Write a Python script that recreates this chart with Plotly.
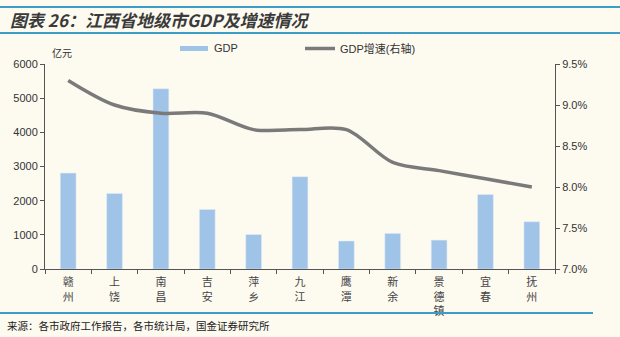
import plotly.graph_objects as go

cities = ["赣州", "上饶", "南昌", "吉安", "萍乡", "九江", "鹰潭", "新余", "景德镇", "宜春", "抚州"]
gdp = [2807, 2212, 5274, 1742, 1009, 2700, 819, 1041, 846, 2180, 1382]
growth = [9.3, 9.0, 8.9, 8.9, 8.7, 8.7, 8.7, 8.3, 8.2, 8.1, 8.0]
tick_text = ["<br>".join(list(c)) for c in cities]

BG = "#fdfaf0"
BAR = "#9fc4e8"
LINE = "#7a7a7a"
BLUE = "#3a9ec9"
AX = "#555555"
FONT = "Liberation Sans, Noto Sans CJK SC, sans-serif"
CJK = "Noto Sans CJK SC, sans-serif"

fig = go.Figure()
fig.add_trace(go.Bar(x=cities, y=gdp, marker_color=BAR, width=0.34, name="GDP", showlegend=False))
fig.add_trace(go.Scatter(x=cities, y=growth, yaxis="y2", mode="lines",
                         line=dict(color=LINE, width=3.5, shape="spline", smoothing=0.9),
                         name="GDP增速(右轴)", showlegend=False))

fig.update_layout(
    width=620, height=337,
    margin=dict(l=45, r=65, t=64, b=68),
    paper_bgcolor=BG, plot_bgcolor=BG,
    font=dict(family=FONT, size=11, color="#333333"),
    bargap=0.66,
    xaxis=dict(type="category", tickmode="array", tickvals=cities, ticktext=tick_text,
               showline=True, linecolor=AX, linewidth=1, ticks="outside", tickson="boundaries",
               ticklen=4, tickcolor=AX, showgrid=False, ticklabelstandoff=3,
               tickfont=dict(family=CJK, size=11, color="#444444"), range=[-0.5, 10.5]),
    yaxis=dict(range=[0, 6000], dtick=1000, showline=True, linecolor=AX, linewidth=1,
               ticks="outside", ticklen=4, tickcolor=AX, showgrid=False, zeroline=False,
               tickfont=dict(size=11, color="#333333")),
    yaxis2=dict(range=[7.0, 9.5], dtick=0.5, tickformat=".1f", ticksuffix="%",
                overlaying="y", side="right", showline=True, linecolor=AX, linewidth=1,
                ticks="outside", ticklen=4, tickcolor=AX, showgrid=False, zeroline=False,
                tickfont=dict(size=11, color="#333333")),
)

shapes = [
    dict(type="line", xref="paper", yref="paper", x0=-45/510, x1=575/510, y0=1+(64-7)/205, y1=1+(64-7)/205,
         line=dict(color=BLUE, width=2)),
    dict(type="line", xref="paper", yref="paper", x0=-45/510, x1=575/510, y0=1+(64-33)/205, y1=1+(64-33)/205,
         line=dict(color=BLUE, width=2)),
    dict(type="line", xref="paper", yref="paper", x0=-45/510, x1=548/510, y0=-(313-269)/205, y1=-(313-269)/205,
         line=dict(color=BLUE, width=2)),
    # legend swatches
    dict(type="rect", xref="paper", yref="paper", x0=(180-45)/510, x1=(208-45)/510,
         y0=1+(64-51)/205, y1=1+(64-46)/205, fillcolor=BAR, line=dict(width=0)),
    dict(type="line", xref="paper", yref="paper", x0=(305-45)/510, x1=(335-45)/510,
         y0=1+(64-48.5)/205, y1=1+(64-48.5)/205, line=dict(color=LINE, width=3.5)),
]

annotations = [
    dict(text="<b><i>图表 26：江西省地级市GDP及增速情况</i></b>", xref="paper", yref="paper",
         x=-37/510, y=1+(64-19)/205, xanchor="left", yanchor="middle", showarrow=False,
         font=dict(family=CJK, size=17, color="#3a3a3a")),
    dict(text="GDP", xref="paper", yref="paper", x=(212-45)/510, y=1+(64-48.5)/205,
         xanchor="left", yanchor="middle", showarrow=False, font=dict(size=11, color="#333333")),
    dict(text="GDP增速(右轴)", xref="paper", yref="paper", x=(338-45)/510, y=1+(64-48.5)/205,
         xanchor="left", yanchor="middle", showarrow=False, font=dict(family=FONT, size=11, color="#333333")),
    dict(text="亿元", xref="paper", yref="paper", x=(50-45)/510, y=1+(64-53)/205,
         xanchor="left", yanchor="middle", showarrow=False, font=dict(family=CJK, size=10, color="#333333")),
    dict(text="来源：各市政府工作报告，各市统计局，国金证券研究所", xref="paper", yref="paper",
         x=-40/510, y=-(325-269)/205, xanchor="left", yanchor="middle", showarrow=False,
         font=dict(family=CJK, size=10.5, color="#222222")),
]

fig.update_layout(shapes=shapes, annotations=annotations)
fig.write_html("out.html")
